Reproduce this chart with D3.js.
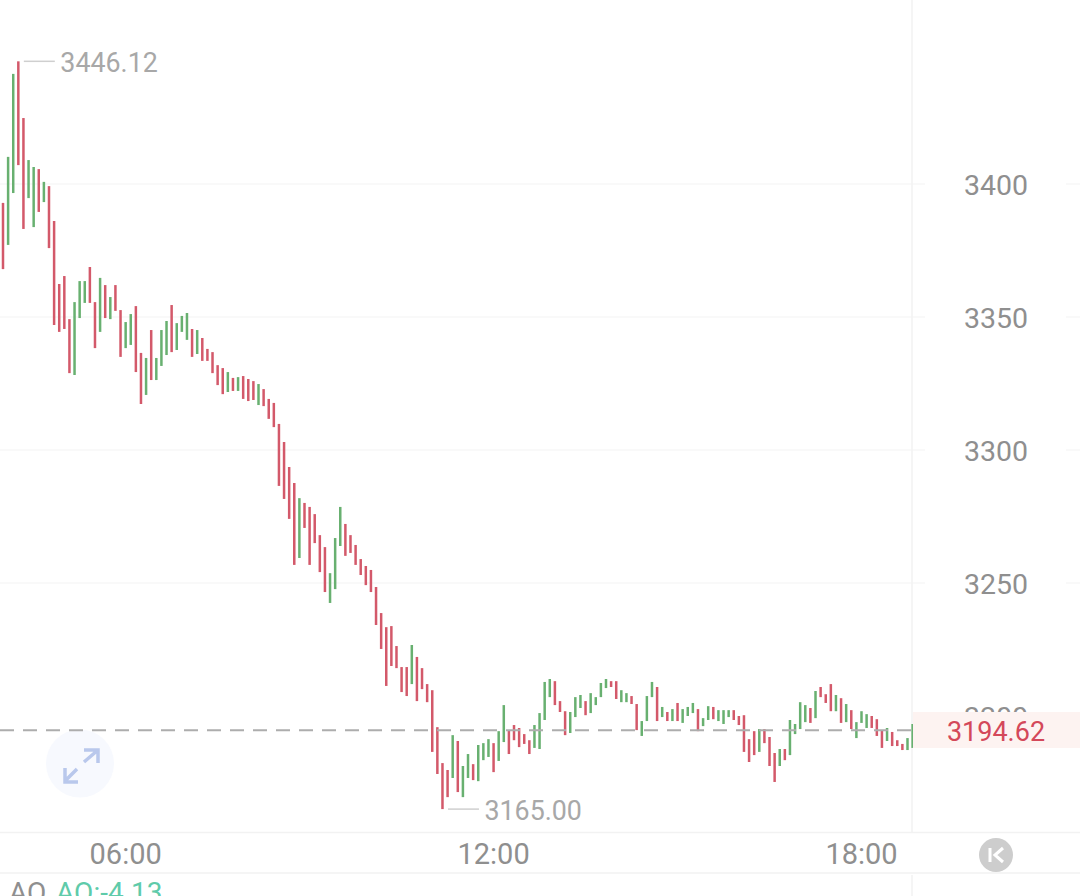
<!DOCTYPE html>
<html>
<head>
<meta charset="utf-8">
<script src="https://cdn.jsdelivr.net/npm/d3@7/dist/d3.min.js"></script>
<style>
html,body{margin:0;padding:0;background:#fff;overflow:hidden}
svg{display:block}
text{font-family:Roboto,"Noto Sans",sans-serif}
</style>
</head>
<body>
<svg id="c" width="1080" height="896"></svg>
<script>
const highs=[3392.9,3410.2,3441.4,3446.12,3424.8,3409.0,3406.4,3405.6,3400.8,3399.2,3386.1,
3362.4,3365.4,3349.2,3355.6,3363.5,3363.5,3368.8,3355.6,3364.7,3362.0,3357.5,3362.0,3352.6,3348.1,3351.1,3354.1,3336.5,3334.6,3345.1,3334.6,3345.1,3348.5,3354.5,3347.7,3350.4,3351.5,3345.5,3345.1,3342.1,3338.0,3336.8,3331.9,3330.8,3329.3,3327.1,3327.4,3327.8,3326.7,3325.9,3324.8,3322.9,3319.2,3317.7,
3309.8,3303.0,3293.6,3287.6,3281.9,3280.1,3278.6,3275.9,3268.0,3263.5,3253.7,3266.9,3278.6,3272.2,3268.0,3264.3,3259.0,3256.4,3254.9,3248.5,3238.7,3233.4,3233.8,3226.3,3218.4,3218.4,3226.7,3222.2,3218.0,3212.0,3209.7,3195.8,3182.3,3179.7,3192.8,3190.6,3181.2,3185.7,3181.9,3189.1,3189.8,3191.3,3189.8,3194.3,3204.1,3194.7,3196.6,3195.5,3193.2,3190.9,3196.6,3201.1,3212.8,3213.9,3213.1,3205.6,3201.8,3201.5,3207.1,3207.9,3205.6,3208.6,3207.1,3212.4,3213.9,3213.1,3213.1,3209.7,3208.6,3207.5,3204.5,3198.1,3207.5,3212.8,3210.9,3203.4,3201.5,3202.6,3204.9,3202.6,3203.4,3204.9,3202.6,3199.2,3203.7,3203.4,3202.2,3202.2,3202.2,3202.2,3200.0,3200.3,3191.3,3194.3,3195.1,3195.1,3192.1,3186.1,3187.6,3187.6,3198.5,3197.0,3205.2,3204.1,3203.0,3209.4,3210.9,3208.2,3212.0,3207.9,3206.7,3204.5,3202.2,3197.7,3201.8,3200.7,3200.0,3198.8,3194.7,3195.5,3194.0,3190.9,3189.5,3191.7,3197.0];
const lows=[3368.0,3377.1,3396.6,3407.1,3383.1,3394.7,3383.8,3389.5,3393.2,3375.9,3347.0,
3344.4,3345.5,3328.9,3328.2,3349.6,3355.3,3355.3,3338.3,3344.4,3349.6,3349.2,3352.3,3335.0,3338.3,3339.5,3329.3,3317.3,3320.7,3326.3,3326.3,3331.6,3335.7,3336.8,3337.6,3344.4,3341.4,3335.0,3336.1,3333.5,3333.5,3328.9,3324.4,3321.0,3321.8,3322.2,3322.2,3319.2,3318.4,3318.8,3316.9,3316.5,3311.7,3308.6,
3286.5,3281.6,3274.1,3256.8,3259.4,3270.7,3256.8,3265.0,3254.1,3246.6,3242.5,3247.7,3263.9,3260.2,3261.3,3256.8,3253.0,3249.2,3246.6,3234.2,3225.2,3211.3,3218.8,3218.0,3209.0,3207.5,3212.0,3205.6,3210.1,3205.2,3186.5,3178.2,3165.00,3169.5,3176.7,3171.4,3169.5,3176.7,3175.9,3175.5,3183.4,3184.6,3178.9,3183.1,3190.2,3185.7,3190.9,3188.3,3189.5,3185.7,3188.0,3187.6,3198.5,3207.1,3204.1,3201.5,3192.8,3193.6,3199.6,3203.0,3200.3,3201.1,3204.1,3207.1,3210.5,3210.9,3206.4,3205.2,3205.2,3204.5,3194.7,3192.5,3198.1,3207.1,3198.1,3199.6,3198.1,3198.1,3198.1,3197.4,3200.0,3201.1,3194.3,3196.2,3198.5,3198.8,3198.1,3197.0,3199.6,3198.5,3196.6,3186.5,3182.7,3185.3,3186.5,3189.8,3181.2,3175.2,3181.2,3183.4,3185.3,3193.2,3195.1,3197.7,3197.4,3199.2,3207.1,3204.9,3201.8,3201.8,3197.4,3197.7,3195.1,3191.7,3197.4,3195.5,3195.5,3192.5,3188.0,3190.6,3188.7,3188.7,3187.2,3187.2,3188.0];
const isUp=[0,1,1,0,0,1,1,0,1,0,0,
0,0,0,1,1,1,0,0,1,0,1,0,0,1,1,0,0,1,0,1,1,1,0,1,1,1,0,1,0,0,0,0,0,1,0,1,0,0,0,1,0,0,0,
0,0,0,0,1,0,0,0,0,0,1,1,1,0,0,0,0,0,0,0,0,0,0,0,0,0,1,0,0,0,0,0,0,0,1,0,1,1,0,1,1,1,0,1,1,0,0,0,0,0,1,1,1,1,0,0,0,1,1,1,0,1,1,1,1,0,0,1,1,0,0,1,1,1,0,1,0,1,0,1,1,1,0,1,1,0,1,1,1,0,0,0,0,0,1,0,0,0,1,0,1,1,1,1,0,1,0,0,0,1,0,1,0,1,1,1,0,0,0,1,0,0,0,1,1];
const yTicks=[3400,3350,3300,3250,3200];
const xTicks=[24,96,168];
const xLabels=["06:00","12:00","18:00"];
const lastPrice=3194.62;
const maxPrice=3446.12;
const minPrice=3165.00;
const indicatorName="AO";
const indicatorValue="AO:-4.13";

const svg=d3.select("#c");
const x=d3.scaleLinear().domain([0,178]).range([3,912.6]);
const y=d3.scaleLinear().domain([3400,3200]).range([184,716]);
const maxIndex=highs.indexOf(maxPrice), minIndex=lows.indexOf(minPrice);

// grid
const grid=svg.append("g").attr("stroke","#f7f7f7").attr("stroke-width",1.5);
yTicks.slice(0,4).forEach(t=>{
  grid.append("line").attr("x1",0).attr("x2",925).attr("y1",y(t)).attr("y2",y(t));
  grid.append("line").attr("x1",1066).attr("x2",1080).attr("y1",y(t)).attr("y2",y(t));
});
// frame
const frame=svg.append("g").attr("stroke","#f2f2f2").attr("stroke-width",1.5);
frame.append("line").attr("x1",912).attr("x2",912).attr("y1",0).attr("y2",832);
frame.append("line").attr("x1",912).attr("x2",912).attr("y1",875).attr("y2",896);
frame.append("line").attr("x1",0).attr("x2",1080).attr("y1",832.5).attr("y2",832.5);
frame.append("line").attr("x1",0).attr("x2",1080).attr("y1",873).attr("y2",873);

// y axis
const yAxis=svg.append("g").attr("transform","translate(996,0)")
  .call(d3.axisRight(y).tickValues(yTicks).tickSize(0).tickPadding(0).tickFormat(d3.format("d")));
yAxis.select(".domain").remove();
yAxis.selectAll("text").attr("text-anchor","middle").attr("fill","#8f8f8f").attr("font-size",28.5).attr("dy","0.36em");

// icon
const icon=svg.append("g").attr("transform","translate(80,767)");
icon.append("circle").attr("cy",-3.5).attr("r",34).attr("fill","#f7f9fe");
icon.append("path").attr("d","M4,-5 L18,-17 M4,-17 L18,-17 L18,-4 M-3,2 L-15,14 M-15,1 L-15,15 L-2,15")
  .attr("fill","none").attr("stroke","#b9c8ec").attr("stroke-width",3.5);

// bars
svg.append("g").selectAll("line").data(d3.range(highs.length)).join("line")
  .attr("x1",i=>x(i)).attr("x2",i=>x(i))
  .attr("y1",i=>y(highs[i])).attr("y2",i=>y(lows[i]))
  .attr("stroke",i=>isUp[i]?"#68b070":"#d3596a").attr("stroke-width",2.5);

// last price
svg.append("line").attr("x1",0).attr("x2",912).attr("y1",y(lastPrice)).attr("y2",y(lastPrice))
  .attr("stroke","#adadad").attr("stroke-width",2).attr("stroke-dasharray","14,9");
svg.append("rect").attr("x",913).attr("y",712).attr("width",167).attr("height",36).attr("fill","#fdf3f1");
svg.append("text").attr("x",996).attr("y",y(lastPrice)+1).attr("dy","0.36em").attr("text-anchor","middle")
  .attr("font-size",27).attr("fill","#d4485a").text(lastPrice.toFixed(2));

// max / min callouts
function callout(i,v){
  const cy=y(v), cx=x(i)+5.5;
  svg.append("line").attr("x1",cx).attr("x2",cx+31).attr("y1",cy).attr("y2",cy).attr("stroke","#cfcfcf").attr("stroke-width",1.5);
  svg.append("text").attr("x",cx+36.5).attr("y",cy+1).attr("dy","0.36em").attr("font-size",26.8).attr("fill","#a8a8a8").text(v.toFixed(2));
}
callout(maxIndex,maxPrice);
callout(minIndex,minPrice);

// x axis
const xAxis=svg.append("g").attr("transform","translate(-0.5,854)")
  .call(d3.axisBottom(x).tickValues(xTicks).tickSize(0).tickPadding(0).tickFormat((d,i)=>xLabels[i]));
xAxis.select(".domain").remove();
xAxis.selectAll("text").attr("y",0).attr("dy","0.36em").attr("fill","#8f8f8f").attr("font-size",29);

// collapse button
const btn=svg.append("g").attr("transform","translate(996,855)");
btn.append("circle").attr("r",17).attr("fill","#cdcdcd");
btn.append("path").attr("d","M-6,-7 V7 M7,-7 L-1,0 L7,7").attr("fill","none").attr("stroke","#fff").attr("stroke-width",3);

// indicator label
svg.append("text").attr("x",9).attr("y",902).attr("font-size",28).attr("fill","#8f8f8f").text(indicatorName);
svg.append("text").attr("x",56).attr("y",902).attr("font-size",28).attr("fill","#5fcbaa").text(indicatorValue);
</script>
</body>
</html>
